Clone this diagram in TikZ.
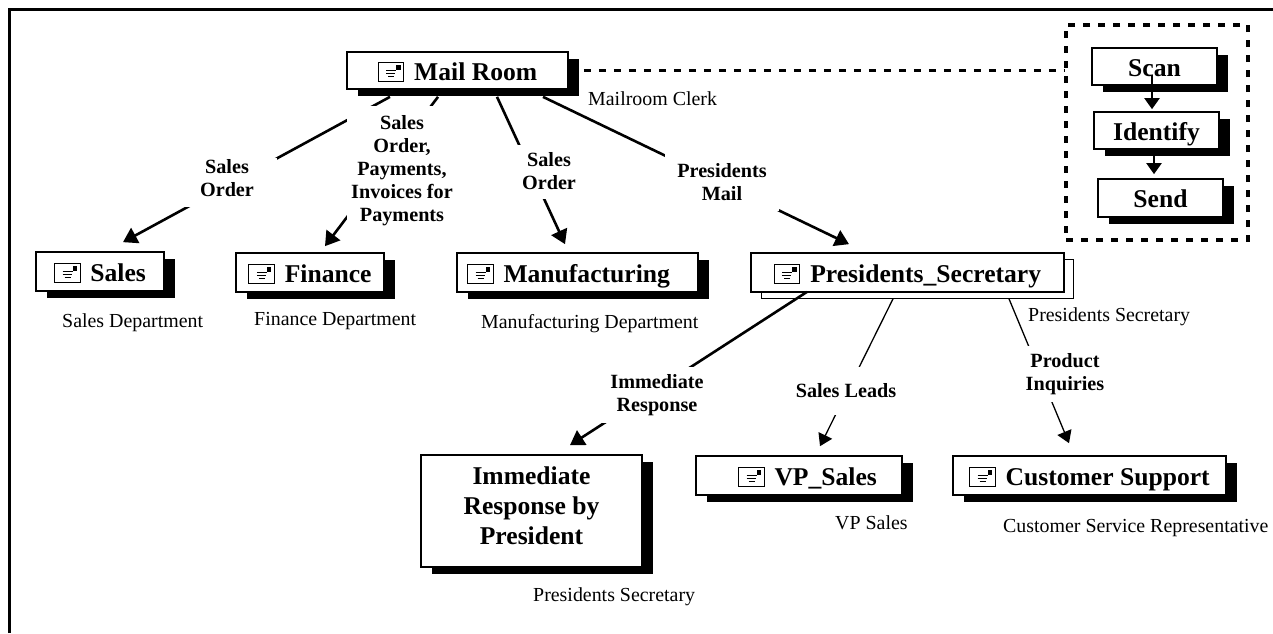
\documentclass[tikz,border=0pt]{standalone}
\usepackage{fontspec}
\setmainfont{Liberation Serif}
\usetikzlibrary{arrows.meta,shadows}
\newcommand{\bigbold}{\fontsize{25.6}{30}\selectfont\bfseries}
\newcommand{\flowbold}{\fontsize{20.2}{23}\selectfont\bfseries}
\newcommand{\plaintext}{\fontsize{19.9}{23}\selectfont}
\newcommand{\mailicon}{\tikz[baseline=1pt,x=1pt,y=1pt]{
	\draw[line width=0.9pt, fill=white] (0,0) rectangle (25.5,18.5);
	\fill (18,11.5) rectangle (22.5,16);
	\draw[line width=0.8pt] (8,10.5) -- (18,10.5);
	\draw[line width=0.8pt] (8,7.5) -- (17,7.5);
	\draw[line width=0.8pt] (10,5) -- (16,5);
	}\hspace{10pt}}
\tikzset{
	plainbox/.style={draw, fill=white, line width=1.7pt, font=\bigbold, inner sep=0pt},
	blackshadow/.style={drop shadow={shadow xshift=10.5pt, shadow yshift=-6.5pt, fill=black, opacity=1}},
	onebox/.style={plainbox, text height=21pt, text depth=2pt},
	mailbox/.style={onebox, blackshadow},
	flowline/.style={line width=2.6pt, -{Triangle[length=14pt,width=17pt]}},
	thinflow/.style={line width=1.3pt, -{Triangle[length=12pt,width=15pt]}},
	stepflow/.style={line width=2.2pt, -{Triangle[length=11pt,width=15pt]}},
	flowlabel/.style={fill=white, font=\flowbold, align=center, inner sep=0pt},
	caption/.style={font=\plaintext, inner sep=0pt},
	dashline/.style={line width=3.2pt, dash pattern=on 7pt off 8pt},
}

\begin{document}
\begin{tikzpicture}[x=1pt, y=-1pt]
	%%%%% FRAME %%%%%
	\useasboundingbox (0,0) rectangle (1273,633);
	\draw[line width=3pt] (9.5,633) -- (9.5,9.5) -- (1273,9.5);

	%%%%% SECOND COPY BEHIND THE SECRETARY %%%%%
	\draw[line width=1pt, fill=white] (761,259) rectangle (1073,298);

	%%%%% BOXES %%%%%
	\node[mailbox, minimum width=221pt, minimum height=37pt] (mailroom) at (457.5,70.5) {\mailicon Mail Room};
	\node[mailbox, minimum width=128pt, minimum height=39pt] (sales) at (100,271.5) {\mailicon Sales};
	\node[mailbox, minimum width=148pt, minimum height=39pt] (finance) at (310,272.5) {\mailicon Finance};
	\node[mailbox, minimum width=241pt, minimum height=39pt] (manufacturing) at (577.5,272.5) {\mailicon Manufacturing\hspace*{18pt}};
	\node[onebox, minimum width=313pt, minimum height=39pt] (secretary) at (907.5,272.5) {\mailicon Presidents\_Secretary};
	\node[plainbox, blackshadow, align=center, text depth=10pt, minimum width=221pt, minimum height=112pt] (immediate) at (531.5,511) {Immediate\\Response by\\President};
	\node[mailbox, minimum width=206pt, minimum height=39pt] (vpsales) at (799,475.5) {\hspace*{17pt}\mailicon VP\_Sales};
	\node[mailbox, minimum width=273pt, minimum height=39pt] (support) at (1089.5,475.5) {\mailicon Customer Support};

	%%%%% SCAN GROUP %%%%%
	\node[mailbox, minimum width=125pt, minimum height=37pt] (scan) at (1154.5,66.5) {Scan};
	\node[mailbox, minimum width=125pt, minimum height=37pt] (identify) at (1156.5,130.5) {Identify};
	\node[mailbox, minimum width=125pt, minimum height=38pt] (send) at (1160.5,198) {Send};
	\node[draw, dashline, minimum width=182pt, minimum height=215pt, inner sep=0pt] (scangroup) at (1157,132.5) {};

	\draw[dashline] ([xshift=15pt]mailroom.east) -- (mailroom.east -| scangroup.west);
	\draw[stepflow] ([xshift=-2.5pt,yshift=-8.5pt]scan.center) -- ([xshift=-4.5pt,yshift=2pt]identify.north);
	\draw[stepflow] ([xshift=-2.5pt]identify.south) -- ([xshift=-6.5pt,yshift=4pt]send.north);

	%%%%% CONNECTORS %%%%%
	\draw[flowline] ([xshift=-67.5pt,yshift=-7pt]mailroom.south) -- ([xshift=23pt,yshift=9pt]sales.north);
	\draw[flowline] ([xshift=-19.5pt,yshift=-7pt]mailroom.south) -- ([xshift=15pt,yshift=6pt]finance.north);
	\draw[flowline] ([xshift=39.5pt,yshift=-7pt]mailroom.south) -- ([xshift=-12.5pt,yshift=8pt]manufacturing.north);
	\draw[flowline] ([xshift=85.5pt,yshift=-7pt]mailroom.south) -- ([xshift=-58.5pt,yshift=8pt]secretary.north);
	\draw[flowline] ([xshift=-100.5pt,yshift=1pt]secretary.south) -- ([xshift=38.5pt,yshift=9pt]immediate.north);
	\draw[thinflow] ([xshift=-14.5pt,yshift=-6pt]secretary.south) -- ([xshift=21pt,yshift=9pt]vpsales.north);
	\draw[thinflow] ([xshift=101.5pt,yshift=-6pt]secretary.south) -- ([xshift=-20.5pt,yshift=12pt]support.north);

	%%%%% LABELS ON THE CONNECTORS %%%%%
	\node[flowlabel, text depth=9pt, minimum width=100pt, minimum height=49pt] (labelsales) at (227,182.5) {Sales\\Order};
	\node[flowlabel, minimum width=110pt, minimum height=130pt] (labelfinance) at (402,171) {Sales\\Order,\\Payments,\\Invoices for\\Payments};
	\node[flowlabel, minimum width=100pt, minimum height=54pt] (labelmanufacturing) at (549,171.5) {Sales\\Order};
	\node[flowlabel, minimum width=114pt, minimum height=58pt] (labelsecretary) at (722,182) {Presidents\\Mail};
	\node[flowlabel, minimum width=120pt, minimum height=56pt] (labelimmediate) at (657,395) {Immediate\\Response};
	\node[flowlabel, minimum width=116pt, minimum height=48pt] (labelvpsales) at (846,391) {Sales Leads};
	\node[flowlabel, minimum width=90pt, minimum height=56pt] (labelsupport) at (1065,374) {Product\\Inquiries};

	%%%%% CAPTIONS %%%%%
	\node[caption, anchor=west] (capmailroom) at (588,99) {Mailroom Clerk};
	\node[caption, anchor=west] (capsales) at (62,323) {Sales Department};
	\node[caption, anchor=west] (capfinance) at (254,321) {Finance Department};
	\node[caption, anchor=west] (capmanufacturing) at (481,324) {Manufacturing Department};
	\node[caption, anchor=west] (capsecretary) at (1028,317) {Presidents Secretary};
	\node[caption, anchor=west] (capvpsales) at (835,523) {VP Sales};
	\node[caption, anchor=west] (capsupport) at (1003,528) {Customer Service Representative};
	\node[caption, anchor=west] (capimmediate) at (533,597) {Presidents Secretary};
\end{tikzpicture}
\end{document}
